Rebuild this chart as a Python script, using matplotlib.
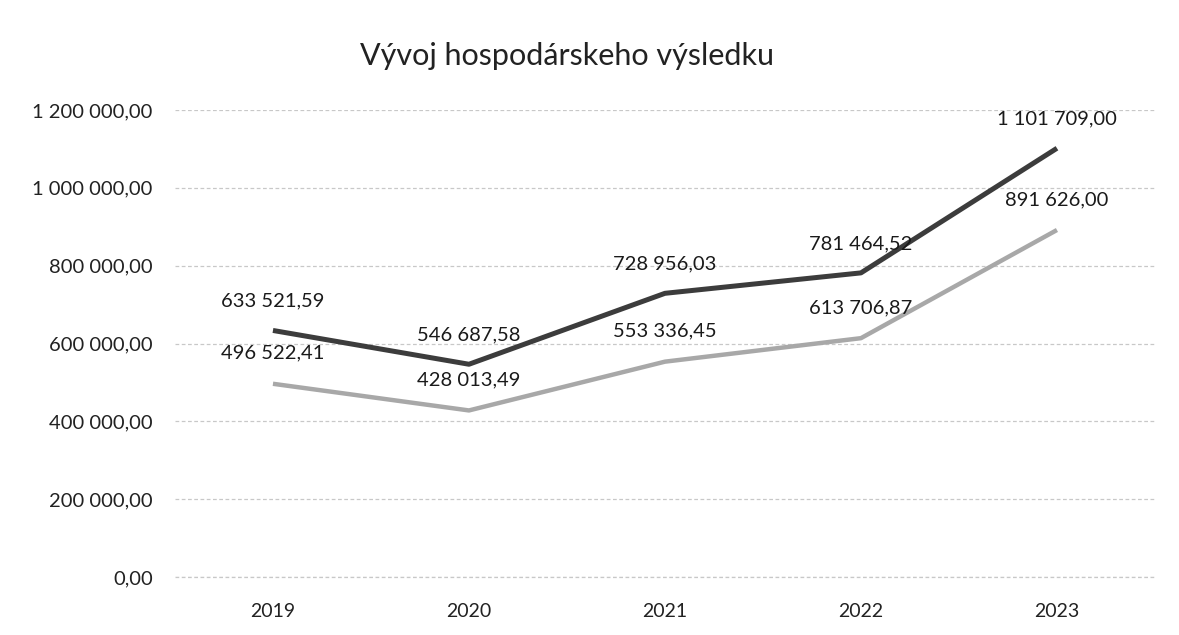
import matplotlib.pyplot as plt

plt.rcParams["font.family"] = ["Lato", "DejaVu Sans"]

years = ["2019", "2020", "2021", "2022", "2023"]
upper = [633521.59, 546687.58, 728956.03, 781464.52, 1101709.00]
lower = [496522.41, 428013.49, 553336.45, 613706.87, 891626.00]
yticks = [0, 200000, 400000, 600000, 800000, 1000000, 1200000]
title = "Vývoj hospodárskeho výsledku"


def fmt(v):
    # slovak style: space thousands, comma decimals
    return f"{v:,.2f}".replace(",", " ").replace(".", ",")


fig = plt.figure(figsize=(11.79, 6.35), dpi=100)
ax = fig.add_axes([0.1484, 0.0913, 0.8312, 0.7355])

x = list(range(len(years)))
ax.plot(x, lower, color="#a8a8a8", lw=3.2, solid_capstyle="butt", zorder=3)
ax.plot(x, upper, color="#3c3c3c", lw=3.6, solid_capstyle="butt", zorder=4)

for xi, v in zip(x, upper):
    ax.annotate(fmt(v), (xi, v), xytext=(0, 21), textcoords="offset points",
                ha="center", va="center", fontsize=14.5, color="#1a1a1a", zorder=5)
for xi, v in zip(x, lower):
    ax.annotate(fmt(v), (xi, v), xytext=(0, 22), textcoords="offset points",
                ha="center", va="center", fontsize=14.5, color="#1a1a1a", zorder=5)

ax.set_xlim(-0.5, len(years) - 0.5)
ax.set_ylim(0, 1200000)
ax.set_xticks(x)
ax.set_xticklabels(years, fontsize=14, color="#222222")
ax.set_yticks(yticks)
ax.set_yticklabels([fmt(v) for v in yticks], fontsize=14.5, color="#222222")
ax.tick_params(axis="x", length=0, pad=19)
ax.tick_params(axis="y", length=0, pad=16)
ax.grid(axis="y", color="#c8c8c8", lw=0.9, linestyle=(0, (3, 2)))
ax.axhline(0, color="#c8c8c8", lw=0.9, linestyle=(0, (3, 2)), clip_on=False, zorder=1)
ax.set_axisbelow(True)
for s in ax.spines.values():
    s.set_visible(False)

fig.text(567 / 1179, 1 - 56 / 635, title, ha="center", va="center",
         fontsize=22, color="#222222")

fig.savefig("out.png", dpi=100, facecolor="white")
plt.close(fig)
